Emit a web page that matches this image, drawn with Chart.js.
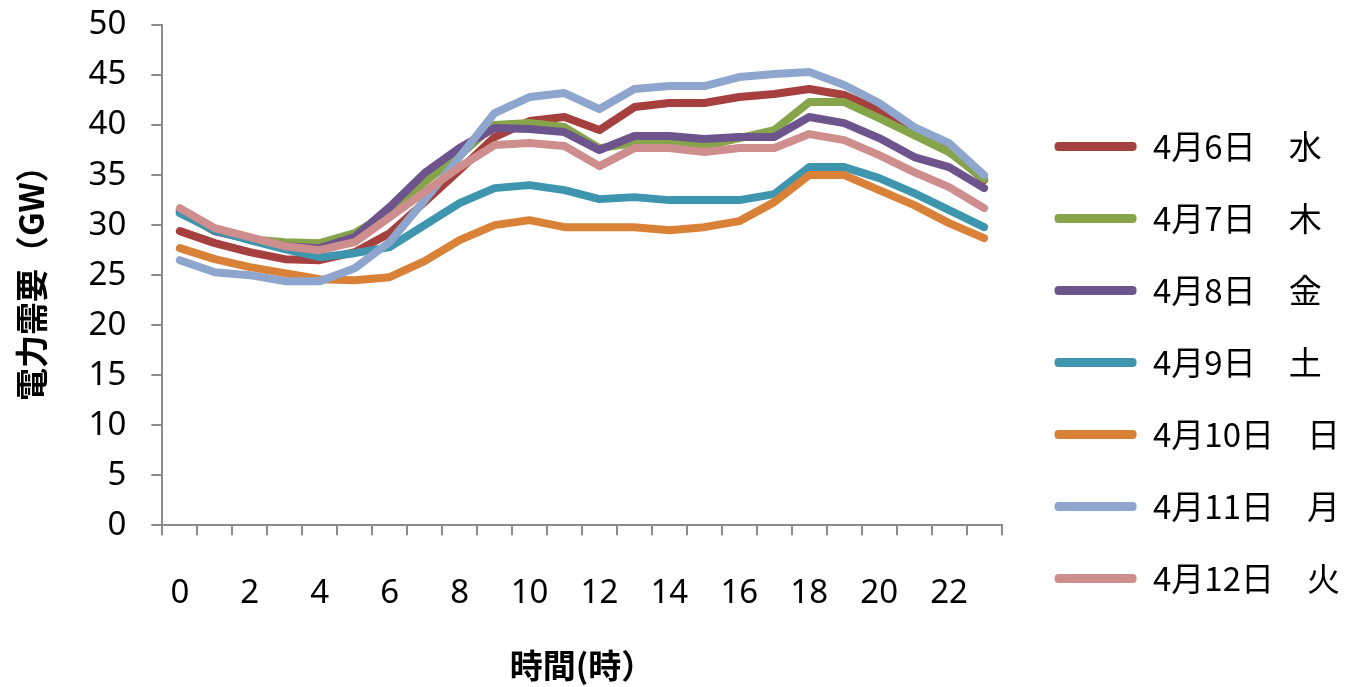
<!DOCTYPE html>
<html>
<head>
<meta charset="utf-8">
<script src="https://cdn.jsdelivr.net/npm/chart.js@4.4.1/dist/chart.umd.min.js"></script>
<style>
  html, body { margin: 0; padding: 0; background: #fff; }
  #wrap { width: 1350px; height: 687px; }
</style>
</head>
<body>
<div id="wrap"><canvas id="graficoDemanda"></canvas></div>
<script>
// ----------- 電力需要 4月6日〜12日 -----------

const horas = ["0","1","2","3","4","5","6","7","8","9","10","11","12","13","14","15","16","17","18","19","20","21","22","23"];

const dias = ["4月6日　水", "4月7日　木", "4月8日　金", "4月9日　土", "4月10日　日", "4月11日　月", "4月12日　火"];

const quarta = [29.4, 28.2, 27.3, 26.6, 26.5, 27.3, 29.2, 32.3, 35.5, 38.8, 40.4, 40.8, 39.5, 41.8, 42.2, 42.2, 42.8, 43.1, 43.6, 43.0, 41.5, 39.5, 37.5, 34.5];
const quinta = [31.3, 29.4, 28.6, 28.3, 28.2, 29.2, 31.3, 34.3, 37.0, 40.0, 40.2, 39.8, 37.7, 38.2, 38.2, 37.9, 38.7, 39.5, 42.3, 42.3, 40.7, 39.0, 37.3, 34.6];
const sexta = [31.5, 29.4, 28.6, 27.9, 27.7, 28.8, 31.8, 35.2, 37.7, 39.7, 39.6, 39.3, 37.5, 38.9, 38.9, 38.6, 38.8, 38.8, 40.8, 40.2, 38.7, 36.8, 35.8, 33.7];
const sabado = [31.2, 29.5, 28.5, 27.6, 26.8, 27.2, 27.8, 30.0, 32.2, 33.7, 34.0, 33.5, 32.6, 32.8, 32.5, 32.5, 32.5, 33.1, 35.8, 35.8, 34.7, 33.2, 31.5, 29.8];
const domingo = [27.7, 26.6, 25.8, 25.2, 24.6, 24.5, 24.8, 26.4, 28.5, 30.0, 30.5, 29.8, 29.8, 29.8, 29.5, 29.8, 30.4, 32.3, 35.0, 35.0, 33.5, 32.0, 30.2, 28.7];
const segunda = [26.5, 25.3, 25.0, 24.4, 24.4, 25.7, 28.3, 32.5, 36.8, 41.2, 42.8, 43.2, 41.6, 43.6, 43.9, 43.9, 44.8, 45.1, 45.3, 44.0, 42.2, 39.8, 38.2, 35.0];
const terca = [31.7, 29.7, 28.8, 27.9, 27.5, 28.3, 30.8, 33.3, 35.8, 38.0, 38.2, 37.9, 35.9, 37.7, 37.7, 37.3, 37.7, 37.7, 39.1, 38.5, 37.0, 35.3, 33.8, 31.7];

const series = [quarta, quinta, sexta, sabado, domingo, segunda, terca];
const cores = ["#A5403E", "#86A44A", "#6E548D", "#3D96AE", "#DA8138", "#8EA6CD", "#CE8E8D"];

const cinza = "#8C8C8C";

document.addEventListener("DOMContentLoaded", () => {
  new Chart(document.getElementById("graficoDemanda"), {
    type: "line",
    data: {
      labels: horas,
      datasets: series.map((valores, i) => ({
        label: dias[i],
        data: valores,
        borderColor: cores[i],
        backgroundColor: cores[i],
        borderWidth: 8,
        borderJoinStyle: "round",
        borderCapStyle: "round",
        pointRadius: 0,
        tension: 0,
        order: series.length - i
      }))
    },
    options: {
      responsive: true,
      maintainAspectRatio: false,
      animation: false,
      devicePixelRatio: 1,
      layout: { padding: { top: 25, left: 12, right: 0, bottom: 8 } },
      plugins: {
        tooltip: { enabled: false },
        legend: {
          position: "right",
          title: { display: true, text: " ", padding: 0, font: { size: 17.5 } },
          labels: {
            color: "#000",
            font: { family: "'Noto Sans CJK JP'", size: 33 },
            boxWidth: 82,
            boxHeight: 9,
            padding: 39,
            useBorderRadius: true,
            borderRadius: 4,
            sort: (a, b) => a.datasetIndex - b.datasetIndex,
            generateLabels: (chart) =>
              Chart.defaults.plugins.legend.labels.generateLabels(chart).map(item => ({
                ...item, lineWidth: 0, fillStyle: item.strokeStyle
              }))
          }
        }
      },
      scales: {
        x: {
          offset: true,
          grid: { offset: true, drawOnChartArea: false, drawTicks: true, tickLength: 10, color: cinza, lineWidth: 2 },
          border: { color: cinza, width: 2 },
          ticks: {
            color: "#000",
            padding: 38,
            autoSkip: false,
            maxRotation: 0,
            font: { family: "'Noto Sans'", size: 33 },
            callback: (v, i) => (i % 2 === 0 ? horas[i] : "")
          },
          title: {
            display: true,
            text: "時間(時）",
            color: "#000",
            padding: 0,
            font: { family: "'Noto Sans CJK JP'", size: 33, weight: "bold", lineHeight: 0.85 }
          }
        },
        y: {
          min: 0,
          max: 50,
          grid: { drawOnChartArea: false, drawTicks: true, tickLength: 11, color: cinza, lineWidth: 2 },
          border: { color: cinza, width: 2 },
          ticks: {
            stepSize: 5,
            color: "#000",
            padding: 25,
            font: { family: "'Noto Sans'", size: 33 }
          },
          title: {
            display: true,
            text: "電力需要（GW）",
            color: "#000",
            padding: { top: 0, bottom: 12 },
            font: { family: "'Noto Sans CJK JP'", size: 33, weight: "bold" }
          },
          afterFit: (s) => { s.paddingTop = 20; s.paddingBottom = 20; }
        },
        hueco: {
          type: "linear",
          position: "right",
          display: false,
          afterFit: (s) => { s.width = 14; }
        }
      }
    }
  });
});
</script>
</body>
</html>
